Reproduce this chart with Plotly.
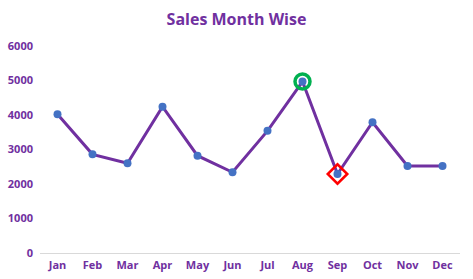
import plotly.graph_objects as go

months = ["Jan", "Feb", "Mar", "Apr", "May", "Jun", "Jul", "Aug", "Sep", "Oct", "Nov", "Dec"]
sales = [4020, 2860, 2600, 4240, 2820, 2340, 3540, 4970, 2290, 3790, 2520, 2520]
max_month = ["Aug"]
max_value = [4970]
min_month = ["Sep"]
min_value = [2290]
y_ticks = [0, 1000, 2000, 3000, 4000, 5000, 6000]

purple = "#7030A0"
font_family = "Open Sans, Lato, sans-serif"

fig = go.Figure()
fig.add_trace(go.Scatter(
    x=months, y=sales, mode="lines+markers",
    line=dict(color=purple, width=3),
    marker=dict(color="#4472C4", size=8),
    showlegend=False, hoverinfo="x+y",
))
fig.add_trace(go.Scatter(
    x=max_month, y=max_value, mode="markers",
    marker=dict(symbol="circle-open", color="#00B050", size=15, line=dict(width=3.5, color="#00B050")),
    showlegend=False,
))
fig.add_trace(go.Scatter(
    x=min_month, y=min_value, mode="markers",
    marker=dict(symbol="diamond-open", color="#FF0000", size=15, line=dict(width=2.5, color="#FF0000")),
    showlegend=False,
))

fig.update_layout(
    width=473, height=279,
    margin=dict(l=40, r=13, t=46, b=26),
    paper_bgcolor="white", plot_bgcolor="white",
    title=dict(text="<b>Sales Month Wise</b>", x=0.5, xanchor="center", y=0.93, yanchor="middle",
               font=dict(family=font_family, size=16, color=purple)),
    font=dict(family=font_family, color=purple),
)
fig.update_xaxes(
    type="category", categoryorder="array", categoryarray=months,
    range=[-0.5, len(months) - 0.5],
    showgrid=False, zeroline=False, showline=False, automargin=False,
    tickfont=dict(family=font_family, size=11, color=purple),
    ticks="", ticklabelstandoff=4,
    tickvals=months, ticktext=[f"<b>{m}</b>" for m in months],
)
fig.update_yaxes(
    range=[0, 6000], tickvals=y_ticks, ticktext=[f"<b>{v}</b>" for v in y_ticks],
    showgrid=False, zeroline=True, zerolinecolor="#D9D9D9", zerolinewidth=1,
    showline=False, ticks="", automargin=False, ticklabelstandoff=6,
    tickfont=dict(family=font_family, size=11, color=purple),
)

fig.write_html("out.html")
